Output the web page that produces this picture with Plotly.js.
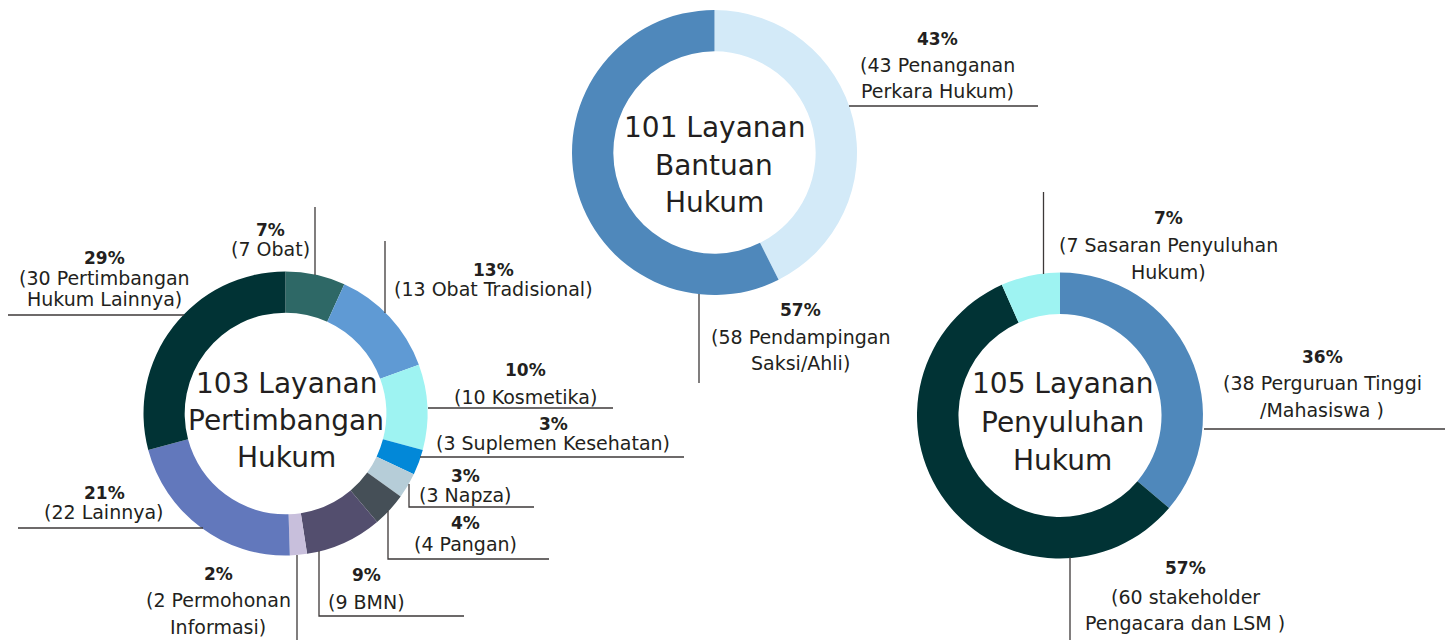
<!DOCTYPE html>
<html>
<head>
<meta charset="utf-8">
<script src="https://cdn.plot.ly/plotly-3.0.1.min.js"></script>
<style>html,body{margin:0;padding:0;background:#fff;}#chart{width:1445px;height:640px;}</style>
</head>
<body>
<div id="chart"></div>
<script>
// ---------- DATA ----------
const pertCategories = ['Obat','Obat Tradisional','Kosmetika','Suplemen Kesehatan','Napza','Pangan','BMN','Permohonan Informasi','Lainnya','Pertimbangan Hukum Lainnya'];
const pertValues = [7, 13, 10, 3, 3, 4, 9, 2, 22, 30];
const pertPercent = ['7%','13%','10%','3%','3%','4%','9%','2%','21%','29%'];
const pertText = ['(7 Obat)','(13 Obat Tradisional)','(10 Kosmetika)','(3 Suplemen Kesehatan)','(3 Napza)','(4 Pangan)','(9 BMN)','(2 Permohonan<br>Informasi)','(22 Lainnya)','(30 Pertimbangan<br>Hukum Lainnya)'];
const pertTitle = '103 Layanan<br>Pertimbangan<br>Hukum';

const bantCategories = ['Penanganan Perkara Hukum','Pendampingan Saksi/Ahli'];
const bantValues = [43, 58];
const bantPercent = ['43%','57%'];
const bantText = ['(43 Penanganan<br>Perkara Hukum)','(58 Pendampingan<br>Saksi/Ahli)'];
const bantTitle = '101 Layanan<br>Bantuan<br>Hukum';

const penyCategories = ['Perguruan Tinggi/Mahasiswa','stakeholder Pengacara dan LSM','Sasaran Penyuluhan Hukum'];
const penyValues = [38, 60, 7];
const penyPercent = ['36%','57%','7%'];
const penyText = ['(38 Perguruan Tinggi<br>/Mahasiswa )','(60 stakeholder<br>Pengacara dan LSM )','(7 Sasaran Penyuluhan<br>Hukum)'];
const penyTitle = '105 Layanan<br>Penyuluhan<br>Hukum';

// ---------- STYLE / LAYOUT ----------
const W = 1445, H = 640;
const FONT = 'DejaVu Sans';
const TXT = '#231f20';
const LINE = '#3d3838';

const pertColors = ['#2e6866','#5f9ad4','#9ef3f2','#0288d8','#b6cdd8','#454f57','#534e6e','#c8bfdc','#6278bc','#013335'];
const bantColors = ['#d3eaf8','#4f88bb'];
const penyColors = ['#4f88bb','#013335','#9ef3f2'];

const charts = [
  {
    cats: pertCategories, vals: pertValues, pct: pertPercent, txt: pertText, title: pertTitle, colors: pertColors,
    cx: 285.5, cy: 413.5, r: 142, titleX: 286, titleY: [383, 420, 457],
    labels: [
      {x:270, y:[230,249]}, {x:493, y:[270,289]}, {x:525, y:[370,397]}, {x:553, y:[424,443]},
      {x:465, y:[476,495]}, {x:465, y:[523,544]}, {x:366, y:[575,602]}, {x:218, y:[574,600,627]},
      {x:104, y:[493,512]}, {x:104, y:[258,278,299]}
    ],
    leaders: [
      [[315,207],[315,275]], [[385,241],[385,313]], [[428,408],[613,408]], [[420,457],[684,457]],
      [[409,484],[409,507],[534,507]], [[388,511],[388,559],[549,559]], [[319,551],[319,616],[464,616]],
      [[297,555],[297,640]], [[18,528],[203,528]], [[8,315],[184,315]]
    ]
  },
  {
    cats: bantCategories, vals: bantValues, pct: bantPercent, txt: bantText, title: bantTitle, colors: bantColors,
    cx: 714.5, cy: 152.5, r: 142.5, titleX: 714, titleY: [127, 165, 202],
    labels: [ {x:938, y:[39,65,91]}, {x:800, y:[310,337,363]} ],
    leaders: [ [[849,106],[1038,106]], [[699,294],[699,383]] ]
  },
  {
    cats: penyCategories, vals: penyValues, pct: penyPercent, txt: penyText, title: penyTitle, colors: penyColors,
    cx: 1060, cy: 415.5, r: 143, titleX: 1062, titleY: [383, 422, 460],
    labels: [ {x:1322, y:[357,383,410]}, {x:1185, y:[568,597,623]}, {x:1168, y:[218,245,272]} ],
    leaders: [ [[1204,429],[1445,429]], [[1070,557],[1070,640]], [[1043.5,192],[1043.5,274]] ]
  }
];

const px = x => x / W;
const py = y => 1 - y / H;

const data = [];
const annotations = [];
const shapes = [];

charts.forEach(c => {
  data.push({
    type: 'pie',
    labels: c.cats,
    values: c.vals,
    sort: false,
    direction: 'clockwise',
    rotation: 0,
    hole: 0.71,
    textinfo: 'none',
    hoverinfo: 'label+value+percent',
    marker: { colors: c.colors, line: { width: 0 } },
    domain: { x: [px(c.cx - c.r), px(c.cx + c.r)], y: [py(c.cy + c.r), py(c.cy - c.r)] },
    showlegend: false
  });
  c.title.split('<br>').forEach((line, i) => {
    annotations.push({
      xref: 'paper', yref: 'paper', x: px(c.titleX), y: py(c.titleY[i]),
      xanchor: 'center', yanchor: 'middle', showarrow: false, text: line,
      font: { family: FONT, size: 28, color: TXT }
    });
  });
  c.labels.forEach((p, k) => {
    annotations.push({
      xref: 'paper', yref: 'paper', x: px(p.x), y: py(p.y[0]),
      xanchor: 'center', yanchor: 'middle', showarrow: false, text: '<b>' + c.pct[k] + '</b>',
      font: { family: FONT, size: 17, color: TXT }
    });
    c.txt[k].split('<br>').forEach((line, j) => {
      annotations.push({
        xref: 'paper', yref: 'paper', x: px(p.x), y: py(p.y[j + 1]),
        xanchor: 'center', yanchor: 'middle', showarrow: false, text: line,
        font: { family: FONT, size: 19, color: TXT }
      });
    });
  });
  c.leaders.forEach(pts => {
    const path = pts.map((q, i) => (i ? 'L ' : 'M ') + px(q[0]) + ' ' + py(q[1])).join(' ');
    shapes.push({ type: 'path', xref: 'paper', yref: 'paper', path: path, line: { color: LINE, width: 1.3 } });
  });
});

const layout = {
  width: W, height: H,
  margin: { l: 0, r: 0, t: 0, b: 0 },
  paper_bgcolor: '#ffffff',
  plot_bgcolor: '#ffffff',
  showlegend: false,
  annotations: annotations,
  shapes: shapes
};

Plotly.newPlot('chart', data, layout, { displayModeBar: false, staticPlot: true });
</script>
</body>
</html>
